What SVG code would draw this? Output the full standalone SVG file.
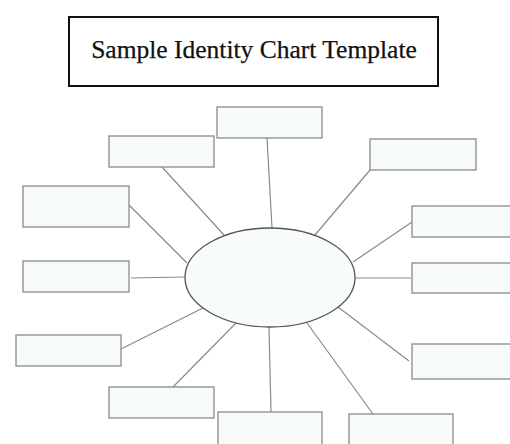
<svg xmlns="http://www.w3.org/2000/svg" width="510" height="444" viewBox="0 0 510 444">
<style>
.box{fill:#f6fbf9;stroke:#8a8a8a;stroke-width:1.3}
.hub{fill:#f7fbfa;stroke:#555;stroke-width:1.3}
.title{fill:#fff;stroke:#111;stroke-width:2}
.ttl{font-family:"Liberation Serif","Times New Roman",serif;font-size:25.5px;fill:#111;stroke:#111;stroke-width:0.25}
#connectors line{stroke:#8a8a8a;stroke-width:1.2}
</style>
<rect width="510" height="444" fill="#fff"/>
<g id="title"><rect class="title" x="69" y="17" width="369" height="69"/><text class="ttl" x="254" y="58" text-anchor="middle">Sample Identity Chart Template</text></g>
<g id="connectors">
<line x1="267" y1="138" x2="272" y2="228"/>
<line x1="162" y1="167" x2="224" y2="235"/>
<line x1="129" y1="205" x2="187" y2="263"/>
<line x1="131" y1="278" x2="185" y2="277"/>
<line x1="121" y1="349" x2="203" y2="308"/>
<line x1="173" y1="387" x2="236" y2="323"/>
<line x1="271" y1="412" x2="269" y2="327"/>
<line x1="373" y1="414" x2="307" y2="323"/>
<line x1="409" y1="361" x2="338" y2="307"/>
<line x1="355" y1="278" x2="411" y2="278"/>
<line x1="412" y1="222" x2="353" y2="262"/>
<line x1="370" y1="170" x2="315" y2="235"/>
</g>
<g id="hub"><ellipse class="hub" cx="270" cy="277.5" rx="85" ry="49.5"/></g>
<g id="box-top"><rect class="box" x="217" y="107" width="105" height="31"/></g>
<g id="box-upper-left"><rect class="box" x="109" y="136" width="105" height="31"/></g>
<g id="box-left-1"><rect class="box" x="23" y="186" width="106" height="41"/></g>
<g id="box-left-2"><rect class="box" x="23" y="261" width="106" height="31"/></g>
<g id="box-left-3"><rect class="box" x="16" y="335" width="105" height="31"/></g>
<g id="box-bottom-left"><rect class="box" x="109" y="387" width="105" height="31"/></g>
<g id="box-bottom-center"><rect class="box" x="218" y="412" width="104" height="40"/></g>
<g id="box-bottom-right"><rect class="box" x="349" y="414" width="104" height="40"/></g>
<g id="box-right-4"><rect class="box" x="412" y="344" width="105" height="35"/></g>
<g id="box-right-3"><rect class="box" x="412" y="263" width="105" height="30"/></g>
<g id="box-right-2"><rect class="box" x="412" y="206" width="105" height="31"/></g>
<g id="box-upper-right"><rect class="box" x="370" y="139" width="106" height="31"/></g>
</svg>
